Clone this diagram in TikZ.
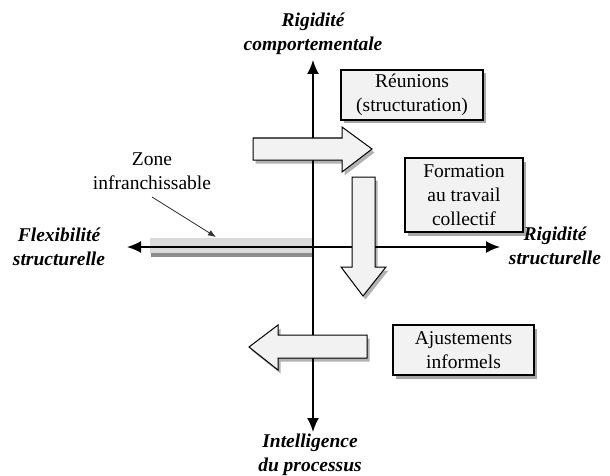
\documentclass[tikz,border=0pt]{standalone}
\usepackage{fontspec}
\setmainfont{Liberation Serif}
\usetikzlibrary{arrows.meta,shadows}

\definecolor{boxfill}{HTML}{F2F2F2}
\definecolor{barfill}{HTML}{DADADA}

\tikzset{
  axis/.style={line width=1.8pt, {Latex[length=14pt,width=12pt]}-{Latex[length=14pt,width=12pt]}},
  txt/.style={font=\fontsize{19.5}{24}\selectfont, align=center, inner sep=0pt},
  axlabel/.style={txt, font=\fontsize{19.5}{24}\selectfont\bfseries\itshape},
  infobox/.style={draw=black, line width=1.3pt, fill=boxfill, txt,
    drop shadow={shadow xshift=2.5pt, shadow yshift=-3.5pt, opacity=.35, fill=black}},
  bigarrow/.style={draw=black, line width=1pt, fill=boxfill, line join=miter,
    drop shadow={shadow xshift=2.5pt, shadow yshift=-3.5pt, opacity=.3, fill=black}},
  zonebar/.style={fill=barfill, draw=none, inner sep=0pt,
    drop shadow={shadow xshift=1pt, shadow yshift=-4pt, opacity=.45, fill=black}},
  pointer/.style={line width=0.8pt, draw=black!80, -{Latex[length=8pt,width=6pt]}},
}

\begin{document}
\begin{tikzpicture}[x=1pt, y=-1pt]
  \useasboundingbox (0,0) rectangle (610,476);

  % axis end points
  \coordinate (ytop) at (313,60);
  \coordinate (ybot) at (313,432);
  \coordinate (xleft) at (127,247);
  \coordinate (xright) at (500,247);

  % impassable zone along the left half of the horizontal axis
  \node[zonebar, minimum width=162pt, minimum height=15pt] (bar) at (231,245.5) {};

  % axes
  \draw[axis] (ybot) -- (ytop);
  \draw[axis] (xleft) -- (xright);

  % axis labels
  \node[axlabel] (rigcomp) at (313,34) {Rigidité\\comportementale};
  \node[axlabel] (intel) at (310,455) {Intelligence\\du processus};
  \node[axlabel] (flex) at (59,247) {Flexibilité\\structurelle};
  \node[axlabel] (rigstruct) at (555,246) {Rigidité\\structurelle};

  % zone annotation
  \node[txt] (zone) at (152,171) {Zone\\infranchissable};
  \coordinate (zonefrom) at (152,197);
  \coordinate (zoneto) at (216,237);
  \draw[pointer] (zonefrom) -- (zoneto);

  % boxes
  \node[infobox, minimum width=142pt, minimum height=50pt] (reunions) at (412,95)
    {Réunions\\(structuration)};
  \node[infobox, minimum width=118pt, minimum height=74pt] (formation) at (464,195)
    {Formation\\au travail\\collectif};
  \node[infobox, minimum width=141pt, minimum height=50pt] (ajust) at (463.5,350)
    {Ajustements\\informels};

  % block arrows
  \draw[bigarrow] (253,138) -- (342,138) -- (342,127) -- (372,149)
    -- (342,172) -- (342,160) -- (253,160) -- cycle;
  \draw[bigarrow] (352,177) -- (375,177) -- (375,267) -- (386,267)
    -- (363,296) -- (341,267) -- (352,267) -- cycle;
  \draw[bigarrow] (367,335) -- (278,335) -- (278,325) -- (249,347)
    -- (278,370) -- (278,358) -- (367,358) -- cycle;
\end{tikzpicture}
\end{document}
